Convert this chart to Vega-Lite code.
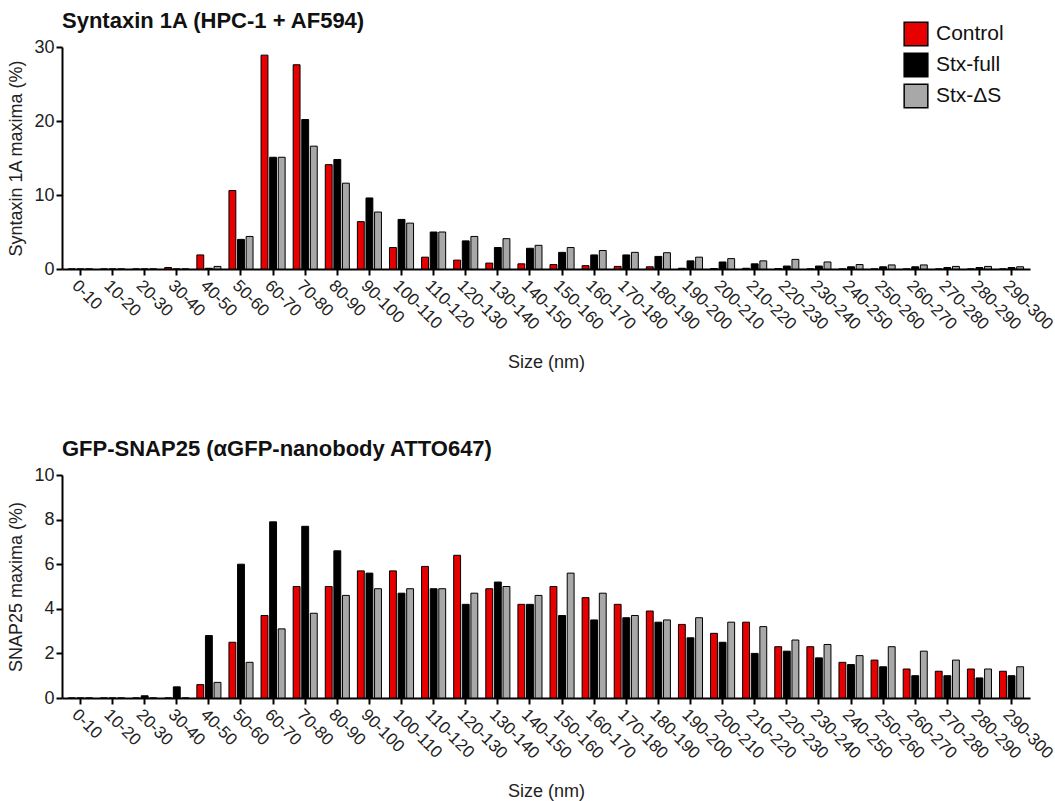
{
  "$schema": "https://vega.github.io/schema/vega-lite/v6.json",
  "background": "white",
  "padding": {"left": 7, "top": 10, "right": 5, "bottom": 2},
  "datasets": {
    "top": [
      {"size":"0-10","group":"Control","value":0},{"size":"0-10","group":"Stx-full","value":0},{"size":"0-10","group":"Stx-ΔS","value":0},
      {"size":"10-20","group":"Control","value":0},{"size":"10-20","group":"Stx-full","value":0},{"size":"10-20","group":"Stx-ΔS","value":0},
      {"size":"20-30","group":"Control","value":0},{"size":"20-30","group":"Stx-full","value":0},{"size":"20-30","group":"Stx-ΔS","value":0},
      {"size":"30-40","group":"Control","value":0.2},{"size":"30-40","group":"Stx-full","value":0},{"size":"30-40","group":"Stx-ΔS","value":0},
      {"size":"40-50","group":"Control","value":1.9},{"size":"40-50","group":"Stx-full","value":0.1},{"size":"40-50","group":"Stx-ΔS","value":0.35},
      {"size":"50-60","group":"Control","value":10.6},{"size":"50-60","group":"Stx-full","value":4.0},{"size":"50-60","group":"Stx-ΔS","value":4.4},
      {"size":"60-70","group":"Control","value":28.9},{"size":"60-70","group":"Stx-full","value":15.1},{"size":"60-70","group":"Stx-ΔS","value":15.1},
      {"size":"70-80","group":"Control","value":27.6},{"size":"70-80","group":"Stx-full","value":20.2},{"size":"70-80","group":"Stx-ΔS","value":16.6},
      {"size":"80-90","group":"Control","value":14.1},{"size":"80-90","group":"Stx-full","value":14.8},{"size":"80-90","group":"Stx-ΔS","value":11.6},
      {"size":"90-100","group":"Control","value":6.4},{"size":"90-100","group":"Stx-full","value":9.6},{"size":"90-100","group":"Stx-ΔS","value":7.7},
      {"size":"100-110","group":"Control","value":2.9},{"size":"100-110","group":"Stx-full","value":6.7},{"size":"100-110","group":"Stx-ΔS","value":6.2},
      {"size":"110-120","group":"Control","value":1.6},{"size":"110-120","group":"Stx-full","value":5.0},{"size":"110-120","group":"Stx-ΔS","value":5.0},
      {"size":"120-130","group":"Control","value":1.2},{"size":"120-130","group":"Stx-full","value":3.8},{"size":"120-130","group":"Stx-ΔS","value":4.4},
      {"size":"130-140","group":"Control","value":0.8},{"size":"130-140","group":"Stx-full","value":2.9},{"size":"130-140","group":"Stx-ΔS","value":4.1},
      {"size":"140-150","group":"Control","value":0.7},{"size":"140-150","group":"Stx-full","value":2.8},{"size":"140-150","group":"Stx-ΔS","value":3.2},
      {"size":"150-160","group":"Control","value":0.6},{"size":"150-160","group":"Stx-full","value":2.25},{"size":"150-160","group":"Stx-ΔS","value":2.9},
      {"size":"160-170","group":"Control","value":0.45},{"size":"160-170","group":"Stx-full","value":1.9},{"size":"160-170","group":"Stx-ΔS","value":2.5},
      {"size":"170-180","group":"Control","value":0.35},{"size":"170-180","group":"Stx-full","value":1.9},{"size":"170-180","group":"Stx-ΔS","value":2.25},
      {"size":"180-190","group":"Control","value":0.3},{"size":"180-190","group":"Stx-full","value":1.7},{"size":"180-190","group":"Stx-ΔS","value":2.2},
      {"size":"190-200","group":"Control","value":0.1},{"size":"190-200","group":"Stx-full","value":1.1},{"size":"190-200","group":"Stx-ΔS","value":1.6},
      {"size":"200-210","group":"Control","value":0.05},{"size":"200-210","group":"Stx-full","value":0.95},{"size":"200-210","group":"Stx-ΔS","value":1.4},
      {"size":"210-220","group":"Control","value":0.1},{"size":"210-220","group":"Stx-full","value":0.7},{"size":"210-220","group":"Stx-ΔS","value":1.1},
      {"size":"220-230","group":"Control","value":0.05},{"size":"220-230","group":"Stx-full","value":0.4},{"size":"220-230","group":"Stx-ΔS","value":1.3},
      {"size":"230-240","group":"Control","value":0},{"size":"230-240","group":"Stx-full","value":0.4},{"size":"230-240","group":"Stx-ΔS","value":0.95},
      {"size":"240-250","group":"Control","value":0},{"size":"240-250","group":"Stx-full","value":0.3},{"size":"240-250","group":"Stx-ΔS","value":0.6},
      {"size":"250-260","group":"Control","value":0},{"size":"250-260","group":"Stx-full","value":0.3},{"size":"250-260","group":"Stx-ΔS","value":0.55},
      {"size":"260-270","group":"Control","value":0},{"size":"260-270","group":"Stx-full","value":0.3},{"size":"260-270","group":"Stx-ΔS","value":0.55},
      {"size":"270-280","group":"Control","value":0},{"size":"270-280","group":"Stx-full","value":0.2},{"size":"270-280","group":"Stx-ΔS","value":0.35},
      {"size":"280-290","group":"Control","value":0},{"size":"280-290","group":"Stx-full","value":0.2},{"size":"280-290","group":"Stx-ΔS","value":0.35},
      {"size":"290-300","group":"Control","value":0},{"size":"290-300","group":"Stx-full","value":0.2},{"size":"290-300","group":"Stx-ΔS","value":0.3}
    ],
    "bottom": [
      {"size":"0-10","group":"Control","value":0},{"size":"0-10","group":"Stx-full","value":0},{"size":"0-10","group":"Stx-ΔS","value":0},
      {"size":"10-20","group":"Control","value":0},{"size":"10-20","group":"Stx-full","value":0},{"size":"10-20","group":"Stx-ΔS","value":0},
      {"size":"20-30","group":"Control","value":0},{"size":"20-30","group":"Stx-full","value":0.1},{"size":"20-30","group":"Stx-ΔS","value":0},
      {"size":"30-40","group":"Control","value":0},{"size":"30-40","group":"Stx-full","value":0.5},{"size":"30-40","group":"Stx-ΔS","value":0},
      {"size":"40-50","group":"Control","value":0.6},{"size":"40-50","group":"Stx-full","value":2.8},{"size":"40-50","group":"Stx-ΔS","value":0.7},
      {"size":"50-60","group":"Control","value":2.5},{"size":"50-60","group":"Stx-full","value":6.0},{"size":"50-60","group":"Stx-ΔS","value":1.6},
      {"size":"60-70","group":"Control","value":3.7},{"size":"60-70","group":"Stx-full","value":7.9},{"size":"60-70","group":"Stx-ΔS","value":3.1},
      {"size":"70-80","group":"Control","value":5.0},{"size":"70-80","group":"Stx-full","value":7.7},{"size":"70-80","group":"Stx-ΔS","value":3.8},
      {"size":"80-90","group":"Control","value":5.0},{"size":"80-90","group":"Stx-full","value":6.6},{"size":"80-90","group":"Stx-ΔS","value":4.6},
      {"size":"90-100","group":"Control","value":5.7},{"size":"90-100","group":"Stx-full","value":5.6},{"size":"90-100","group":"Stx-ΔS","value":4.9},
      {"size":"100-110","group":"Control","value":5.7},{"size":"100-110","group":"Stx-full","value":4.7},{"size":"100-110","group":"Stx-ΔS","value":4.9},
      {"size":"110-120","group":"Control","value":5.9},{"size":"110-120","group":"Stx-full","value":4.9},{"size":"110-120","group":"Stx-ΔS","value":4.9},
      {"size":"120-130","group":"Control","value":6.4},{"size":"120-130","group":"Stx-full","value":4.2},{"size":"120-130","group":"Stx-ΔS","value":4.7},
      {"size":"130-140","group":"Control","value":4.9},{"size":"130-140","group":"Stx-full","value":5.2},{"size":"130-140","group":"Stx-ΔS","value":5.0},
      {"size":"140-150","group":"Control","value":4.2},{"size":"140-150","group":"Stx-full","value":4.2},{"size":"140-150","group":"Stx-ΔS","value":4.6},
      {"size":"150-160","group":"Control","value":5.0},{"size":"150-160","group":"Stx-full","value":3.7},{"size":"150-160","group":"Stx-ΔS","value":5.6},
      {"size":"160-170","group":"Control","value":4.5},{"size":"160-170","group":"Stx-full","value":3.5},{"size":"160-170","group":"Stx-ΔS","value":4.7},
      {"size":"170-180","group":"Control","value":4.2},{"size":"170-180","group":"Stx-full","value":3.6},{"size":"170-180","group":"Stx-ΔS","value":3.7},
      {"size":"180-190","group":"Control","value":3.9},{"size":"180-190","group":"Stx-full","value":3.4},{"size":"180-190","group":"Stx-ΔS","value":3.5},
      {"size":"190-200","group":"Control","value":3.3},{"size":"190-200","group":"Stx-full","value":2.7},{"size":"190-200","group":"Stx-ΔS","value":3.6},
      {"size":"200-210","group":"Control","value":2.9},{"size":"200-210","group":"Stx-full","value":2.5},{"size":"200-210","group":"Stx-ΔS","value":3.4},
      {"size":"210-220","group":"Control","value":3.4},{"size":"210-220","group":"Stx-full","value":2.0},{"size":"210-220","group":"Stx-ΔS","value":3.2},
      {"size":"220-230","group":"Control","value":2.3},{"size":"220-230","group":"Stx-full","value":2.1},{"size":"220-230","group":"Stx-ΔS","value":2.6},
      {"size":"230-240","group":"Control","value":2.3},{"size":"230-240","group":"Stx-full","value":1.8},{"size":"230-240","group":"Stx-ΔS","value":2.4},
      {"size":"240-250","group":"Control","value":1.6},{"size":"240-250","group":"Stx-full","value":1.5},{"size":"240-250","group":"Stx-ΔS","value":1.9},
      {"size":"250-260","group":"Control","value":1.7},{"size":"250-260","group":"Stx-full","value":1.4},{"size":"250-260","group":"Stx-ΔS","value":2.3},
      {"size":"260-270","group":"Control","value":1.3},{"size":"260-270","group":"Stx-full","value":1.0},{"size":"260-270","group":"Stx-ΔS","value":2.1},
      {"size":"270-280","group":"Control","value":1.2},{"size":"270-280","group":"Stx-full","value":1.0},{"size":"270-280","group":"Stx-ΔS","value":1.7},
      {"size":"280-290","group":"Control","value":1.3},{"size":"280-290","group":"Stx-full","value":0.9},{"size":"280-290","group":"Stx-ΔS","value":1.3},
      {"size":"290-300","group":"Control","value":1.2},{"size":"290-300","group":"Stx-full","value":1.0},{"size":"290-300","group":"Stx-ΔS","value":1.4}
    ]
  },
  "config": {
    "font": "Liberation Sans",
    "view": {"stroke": null},
    "axis": {
      "grid": false,
      "domainColor": "#000",
      "domainWidth": 2,
      "tickColor": "#000",
      "tickWidth": 2,
      "tickSize": 6,
      "labelColor": "#222",
      "titleColor": "#222",
      "labelFont": "Liberation Sans",
      "titleFont": "Liberation Sans",
      "titleFontWeight": "normal",
      "titleFontSize": 18
    },
    "title": {"anchor": "start", "frame": "group", "fontSize": 22, "fontWeight": "bold", "color": "#111", "font": "Liberation Sans", "offset": 5},
    "legend": {
      "orient": "none",
      "legendX": 841,
      "legendY": -26,
      "title": null,
      "symbolType": "square",
      "symbolSize": 560,
      "symbolStrokeColor": "#000",
      "symbolStrokeWidth": 1.5,
      "labelFontSize": 21,
      "labelColor": "#111",
      "labelFont": "Liberation Sans",
      "rowPadding": 1,
      "labelOffset": 7
    }
  },
  "spacing": 66,
  "vconcat": [
    {
      "title": {"text": "Syntaxin 1A (HPC-1 + AF594)"},
      "width": 968,
      "height": 222,
      "data": {"name": "top"},
      "mark": {"type": "bar", "stroke": "#000", "strokeWidth": 1},
      "encoding": {
        "x": {"field": "size", "type": "nominal", "sort": null,
          "scale": {"paddingInner": 0.25, "paddingOuter": 0.2},
          "axis": {"title": "Size (nm)", "labelAngle": 45, "labelAlign": "left", "labelBaseline": "top", "labelFontSize": 17, "titlePadding": 21}},
        "xOffset": {"field": "group", "type": "nominal", "sort": ["Control", "Stx-full", "Stx-ΔS"], "scale": {"paddingInner": 0.2}},
        "y": {"field": "value", "type": "quantitative", "scale": {"domain": [0, 30]},
          "axis": {"values": [0, 10, 20, 30], "title": "Syntaxin 1A maxima (%)", "labelFontSize": 18, "titlePadding": 8}},
        "color": {"field": "group", "type": "nominal", "sort": ["Control", "Stx-full", "Stx-ΔS"],
          "scale": {"domain": ["Control", "Stx-full", "Stx-ΔS"], "range": ["#e60000", "#000000", "#a8a8a8"]}}
      }
    },
    {
      "title": {"text": "GFP-SNAP25 (αGFP-nanobody ATTO647)"},
      "width": 968,
      "height": 223,
      "data": {"name": "bottom"},
      "mark": {"type": "bar", "stroke": "#000", "strokeWidth": 1},
      "encoding": {
        "x": {"field": "size", "type": "nominal", "sort": null,
          "scale": {"paddingInner": 0.25, "paddingOuter": 0.2},
          "axis": {"title": "Size (nm)", "labelAngle": 45, "labelAlign": "left", "labelBaseline": "top", "labelFontSize": 17, "titlePadding": 21}},
        "xOffset": {"field": "group", "type": "nominal", "sort": ["Control", "Stx-full", "Stx-ΔS"], "scale": {"paddingInner": 0.2}},
        "y": {"field": "value", "type": "quantitative", "scale": {"domain": [0, 10]},
          "axis": {"values": [0, 2, 4, 6, 8, 10], "title": "SNAP25 maxima (%)", "labelFontSize": 18, "titlePadding": 8}},
        "color": {"field": "group", "type": "nominal", "sort": ["Control", "Stx-full", "Stx-ΔS"],
          "scale": {"domain": ["Control", "Stx-full", "Stx-ΔS"], "range": ["#e60000", "#000000", "#a8a8a8"]}}
      }
    }
  ]
}
